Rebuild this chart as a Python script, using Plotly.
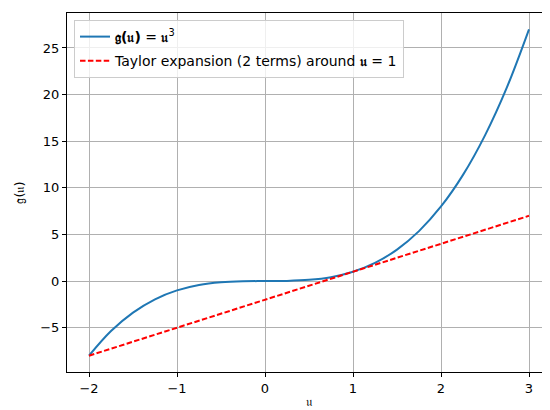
import plotly.graph_objects as go

# Data
u_vals = [-2, -1.75, -1.5, -1.25, -1, -0.75, -0.5, -0.25, 0, 0.25, 0.5, 0.75,
          1, 1.25, 1.5, 1.75, 2, 2.25, 2.5, 2.75, 3]
g_vals = [-8, -5.36, -3.38, -1.95, -1, -0.42, -0.13, -0.02, 0, 0.02, 0.13, 0.42,
          1, 1.95, 3.38, 5.36, 8, 11.39, 15.63, 20.8, 27]
taylor_u = [-2, 3]
taylor_vals = [-8, 7]
x_ticks = [-2, -1, 0, 1, 2, 3]
y_ticks = [-5, 0, 5, 10, 15, 20, 25]

FONT = "DejaVu Sans"

fig = go.Figure()
fig.add_trace(go.Scatter(
    x=u_vals, y=g_vals, mode="lines", line_shape="spline",
    line=dict(color="#1f77b4", width=2), legendgroup="a",
    name="<b>𝔤(𝔲)</b> = <b>𝔲</b><sup>3</sup>"))
fig.add_trace(go.Scatter(
    x=taylor_u, y=taylor_vals, mode="lines",
    line=dict(color="#ff0000", width=2, dash="5.5px,2.4px"), legendgroup="b",
    name="Taylor expansion (2 terms) around <b>𝔲</b> = 1"))

axis_common = dict(
    showline=True, linecolor="black", linewidth=1, mirror=True,
    showgrid=True, gridcolor="#b0b0b0", gridwidth=1,
    ticks="outside", ticklen=4, tickcolor="black", tickwidth=1,
    zeroline=False, tickfont=dict(family=FONT, size=13, color="black"),
    automargin=False,
)

fig.update_layout(
    width=550, height=410,
    margin=dict(l=59, r=7, t=5, b=46),
    paper_bgcolor="white", plot_bgcolor="white",
    font=dict(family=FONT, size=13, color="black"),
    showlegend=True,
    legend=dict(
        x=0.0145, y=0.9805, xanchor="left", yanchor="top",
        bgcolor="rgba(255,255,255,0.8)", bordercolor="#cccccc", borderwidth=1,
        font=dict(family=FONT, size=14, color="black"),
        itemwidth=30, tracegroupgap=3,
    ),
    xaxis=dict(range=[-2.25, 3.25], tickvals=x_ticks,
               title=dict(text="𝔲", standoff=2, font=dict(family=FONT, size=13)),
               **axis_common),
    yaxis=dict(range=[-9.75, 28.75], tickvals=y_ticks,
               title=dict(text="𝔤(𝔲)", standoff=12, font=dict(family=FONT, size=13)),
               **axis_common),
)

fig.write_html("out.html")
